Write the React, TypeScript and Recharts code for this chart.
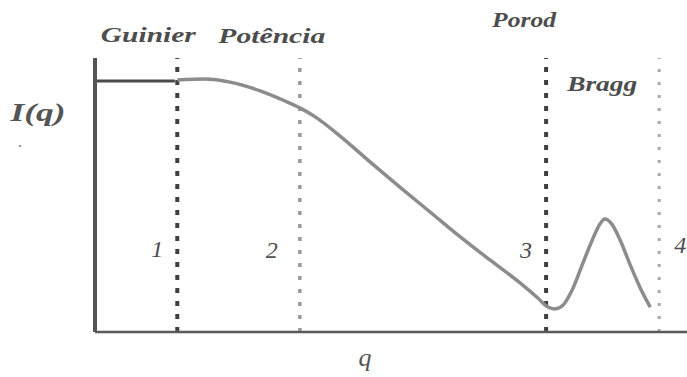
import React from 'react';
import { LineChart, Line, XAxis, YAxis, ReferenceLine } from 'recharts';

// Schematic small-angle scattering curve I(q) with its four regimes.
const plateauQ = [0, 1.35];
const plateauI = [9.16, 9.16];

const curveQ = [
  1.39, 1.86, 2.28, 2.79, 3.21, 3.46, 3.72, 4.14, 4.65, 5.15, 5.66, 6.17, 6.67, 7.18,
  7.48, 7.65, 7.77, 7.91, 8.06, 8.23, 8.4, 8.53, 8.61, 8.73, 8.87, 9.04, 9.21, 9.38,
];
const curveI = [
  9.2, 9.23, 9.12, 8.8, 8.43, 8.18, 7.85, 7.15, 6.2, 5.29, 4.38, 3.47, 2.63, 1.79,
  1.24, 0.91, 0.84, 0.99, 1.53, 2.45, 3.36, 3.94, 4.12, 3.94, 3.36, 2.45, 1.61, 0.91,
];

const regionBoundaries = [1.39, 3.46, 7.62, 9.53];
const regionNumbers = ['1', '2', '3', '4'];
const regionNames = ['Guinier', 'Potência', 'Porod', 'Bragg'];

const plateauData = plateauQ.map((q, i) => ({ q, I: plateauI[i] }));
const curveData = curveQ.map((q, i) => ({ q, I: curveI[i] }));

// Styling of each boundary line and the placement of its texts relative to it.
const boundaryStyle = [
  { stroke: '#3f3f3f', width: 4, dash: '5 8', numDx: -20, numDy: 199, nameDx: -29, nameDy: -16, nameLen: 95, nameSize: 20 },
  { stroke: '#9a9a9a', width: 3.5, dash: '4 9', numDx: -28, numDy: 200, nameDx: -28, nameDy: -15, nameLen: 107, nameSize: 20 },
  { stroke: '#3f3f3f', width: 4, dash: '5 8', numDx: -20, numDy: 200, nameDx: -22, nameDy: -31, nameLen: 64, nameSize: 20 },
  { stroke: '#a8a8a8', width: 3, dash: '3 10', numDx: 21, numDy: 195, nameDx: -57, nameDy: 33, nameLen: 70, nameSize: 21 },
];

const textFill = '#4d4d4d';
const fontFamily = '"Liberation Serif", "DejaVu Serif", serif';

const makeBoundaryLabel = (idx: number) => (props: any) => {
  const vb = props.viewBox || {};
  const x = vb.x ?? 0;
  const y = vb.y ?? 0;
  const s = boundaryStyle[idx];
  return (
    <g>
      <text
        x={x + s.nameDx}
        y={y + s.nameDy}
        textAnchor="middle"
        fontFamily={fontFamily}
        fontStyle="italic"
        fontWeight="bold"
        fontSize={s.nameSize}
        fill={textFill}
        textLength={s.nameLen}
        lengthAdjust="spacingAndGlyphs"
      >
        {regionNames[idx]}
      </text>
      <text
        x={x + s.numDx}
        y={y + s.numDy}
        textAnchor="middle"
        fontFamily={fontFamily}
        fontStyle="italic"
        fontSize={24}
        fill={textFill}
      >
        {regionNumbers[idx]}
      </text>
    </g>
  );
};

const yAxisLabel = (props: any) => {
  const vb = props.viewBox || {};
  const right = (vb.x ?? 0) + (vb.width ?? 0);
  const y = vb.y ?? 0;
  return (
    <g>
      <text
        x={right - 57}
        y={y + 63}
        textAnchor="middle"
        fontFamily={fontFamily}
        fontStyle="italic"
        fontWeight="bold"
        fontSize={26}
        fill="#555"
        textLength={55}
        lengthAdjust="spacingAndGlyphs"
      >
        I(q)
      </text>
      <text x={right - 75} y={y + 89} textAnchor="middle" fontFamily={fontFamily} fontSize={16} fill="#777">
        .
      </text>
    </g>
  );
};

const xAxisLabel = (props: any) => {
  const vb = props.viewBox || {};
  const x = vb.x ?? 0;
  const y = vb.y ?? 0;
  return (
    <text
      x={x + 270}
      y={y + 34}
      textAnchor="middle"
      fontFamily={fontFamily}
      fontStyle="italic"
      fontSize={26}
      fill="#555"
    >
      q
    </text>
  );
};

export default function App() {
  return (
    <div style={{ position: 'absolute', left: 0, top: 0, width: 687, height: 377, background: '#fff' }}>
      <LineChart width={687} height={377} margin={{ top: 58, right: 0, bottom: 44, left: 94 }}>
        <XAxis
          type="number"
          dataKey="q"
          domain={[0, 10]}
          allowDataOverflow
          height={1}
          tick={false}
          tickLine={false}
          axisLine={{ stroke: '#5a5a5a', strokeWidth: 2.5 }}
          label={xAxisLabel}
        />
        <YAxis
          type="number"
          dataKey="I"
          domain={[0, 10]}
          allowDataOverflow
          width={1}
          tick={false}
          tickLine={false}
          axisLine={{ stroke: '#555', strokeWidth: 4 }}
          label={yAxisLabel}
        />
        {regionBoundaries.map((b, i) => (
          <ReferenceLine
            key={regionNumbers[i]}
            x={b}
            stroke={boundaryStyle[i].stroke}
            strokeWidth={boundaryStyle[i].width}
            strokeDasharray={boundaryStyle[i].dash}
            label={makeBoundaryLabel(i)}
          />
        ))}
        <Line
          data={plateauData}
          dataKey="I"
          type="linear"
          stroke="#4a4a4a"
          strokeWidth={3}
          dot={false}
          activeDot={false}
          isAnimationActive={false}
        />
        <Line
          data={curveData}
          dataKey="I"
          type="monotone"
          stroke="#8c8c8c"
          strokeWidth={3.5}
          dot={false}
          activeDot={false}
          isAnimationActive={false}
        />
      </LineChart>
    </div>
  );
}
